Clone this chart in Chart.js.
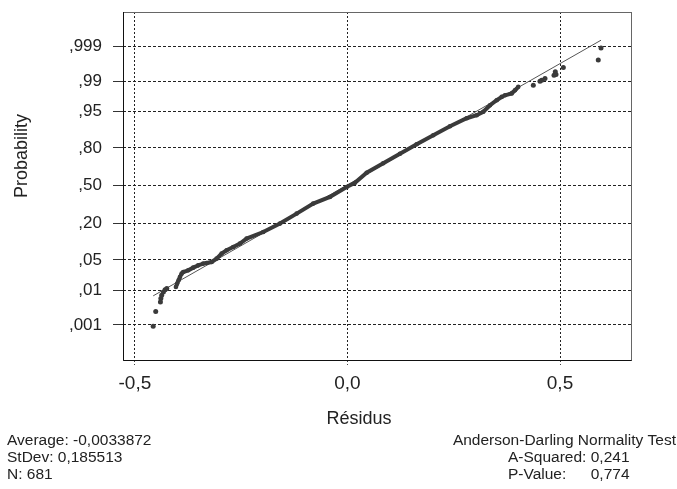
<!DOCTYPE html>
<html lang="en">
<head>
  <meta charset="UTF-8" />
  <title>Normal Probability Plot | Résidus</title>
  <script src="https://cdn.jsdelivr.net/npm/chart.js"></script>
  <style>
    html, body { margin: 0; padding: 0; background: #fff; }
    #wrap { width: 677px; height: 489px; }
  </style>
</head>
<body>
  <div id="wrap">
    <canvas id="probChart" width="677" height="489"></canvas>
  </div>

  <script>
    // residuals, with their plotted probabilities
    const lowR = [-0.457, -0.451, -0.440, -0.439, -0.437, -0.433, -0.429, -0.425];
    const lowP = [0.0009, 0.0026, 0.0049, 0.0061, 0.0075, 0.0091, 0.0105, 0.0112];

    const bodyR = [-0.4035, -0.4005, -0.3972, -0.3941, -0.3901, -0.3864, -0.3746, -0.3628, -0.3511, -0.3393,
                   -0.3313, -0.3195, -0.3078, -0.2960, -0.2842, -0.2687, -0.2529, -0.2372, -0.1981, -0.1588,
                   -0.1195, -0.0805, -0.0412, -0.0019, 0.0176, 0.0452, 0.0842, 0.1235, 0.1628, 0.2019,
                   0.2412, 0.2805, 0.3040, 0.3195, 0.3353, 0.3511, 0.3628, 0.3706, 0.3864, 0.3941, 0.4019];
    const bodyP = [0.0123, 0.0149, 0.0179, 0.0213, 0.0255, 0.0277, 0.0302, 0.0345, 0.0386, 0.0419,
                   0.0431, 0.0452, 0.0528, 0.0659, 0.0759, 0.0869, 0.0996, 0.1204, 0.1522, 0.2005,
                   0.2683, 0.3460, 0.4017, 0.4892, 0.5266, 0.6137, 0.6915, 0.7615, 0.8217, 0.8691,
                   0.9069, 0.9332, 0.9414, 0.9499, 0.9632, 0.9713, 0.9758, 0.9778, 0.9798, 0.9831, 0.9860];

    const highR = [0.4372, 0.4529, 0.4569, 0.4647, 0.4859, 0.4889, 0.4906, 0.5078, 0.5900, 0.5965];
    const highP = [0.9872, 0.9899, 0.9905, 0.9914, 0.9930, 0.9943, 0.9933, 0.9957, 0.9974, 0.9989];

    const probTicks = [0.001, 0.01, 0.05, 0.2, 0.5, 0.8, 0.95, 0.99, 0.999];
    const probLabels = [',001', ',01', ',05', ',20', ',50', ',80', ',95', ',99', ',999'];
    const resTicks = [-0.5, 0, 0.5];
    const resLabels = ['-0,5', '0,0', '0,5'];

    const average = -0.0033872;
    const stdev = 0.185513;
    const nObs = 681;
    const aSquared = 0.241;
    const pValue = 0.774;

    // inverse normal cdf, so the probability axis is drawn on a normal scale
    function probit(p) {
      const a = [-3.969683028665376e+01, 2.209460984245205e+02, -2.759285104469687e+02, 1.383577518672690e+02, -3.066479806614716e+01, 2.506628277459239e+00];
      const b = [-5.447609879822406e+01, 1.615858368580409e+02, -1.556989798598866e+02, 6.680131188771972e+01, -1.328068155288572e+01];
      const c = [-7.784894002430293e-03, -3.223964580411365e-01, -2.400758277161838e+00, -2.549732539343734e+00, 4.374664141464968e+00, 2.938163982698783e+00];
      const d = [7.784695709041462e-03, 3.224671290700398e-01, 2.445134137142996e+00, 3.754408661907416e+00];
      const pl = 0.02425;
      let q, r;
      if (p < pl) {
        q = Math.sqrt(-2 * Math.log(p));
        return (((((c[0]*q + c[1])*q + c[2])*q + c[3])*q + c[4])*q + c[5]) / ((((d[0]*q + d[1])*q + d[2])*q + d[3])*q + 1);
      }
      if (p > 1 - pl) {
        q = Math.sqrt(-2 * Math.log(1 - p));
        return -(((((c[0]*q + c[1])*q + c[2])*q + c[3])*q + c[4])*q + c[5]) / ((((d[0]*q + d[1])*q + d[2])*q + d[3])*q + 1);
      }
      q = p - 0.5;
      r = q * q;
      return (((((a[0]*r + a[1])*r + a[2])*r + a[3])*r + a[4])*r + a[5])*q / (((((b[0]*r + b[1])*r + b[2])*r + b[3])*r + b[4])*r + 1);
    }

    const toPoints = (rs, ps) => rs.map((r, i) => ({ x: r, y: probit(ps[i]) }));
    const comma = v => String(v).replace('.', ',');

    const rMin = Math.min(...lowR);
    const rMax = Math.max(...highR);
    const fitLine = [rMin, rMax].map(r => ({ x: r, y: (r - average) / stdev }));

    const FONT = "'Liberation Sans', Arial, sans-serif";
    const INK = '#3a3a3a';

    // frame and the texts around the plot
    const decor = {
      id: 'decor',
      afterDraw(chart) {
        const { ctx, chartArea: ca } = chart;
        ctx.save();
        ctx.lineWidth = 1;
        ctx.strokeStyle = '#666';
        ctx.strokeRect(ca.left + 0.5, ca.top + 0.5, ca.right - ca.left, ca.bottom - ca.top);
        ctx.strokeStyle = '#111';
        ctx.beginPath();
        ctx.moveTo(ca.left + 0.5, ca.top);
        ctx.lineTo(ca.left + 0.5, ca.bottom + 0.5);
        ctx.lineTo(ca.right + 0.5, ca.bottom + 0.5);
        ctx.stroke();

        ctx.fillStyle = '#222';
        ctx.textBaseline = 'middle';

        ctx.save();
        ctx.translate(22, 156);
        ctx.rotate(-Math.PI / 2);
        ctx.textAlign = 'center';
        ctx.font = '18px ' + FONT;
        ctx.fillText('Probability', 0, 0);
        ctx.restore();

        ctx.textAlign = 'center';
        ctx.font = '18px ' + FONT;
        ctx.fillText('Résidus', 359, 419);

        ctx.font = '15.5px ' + FONT;
        ctx.textAlign = 'left';
        ctx.fillText('Average: ' + comma(average), 7, 441);
        ctx.fillText('StDev: ' + comma(stdev), 7, 458);
        ctx.fillText('N: ' + nObs, 7, 475);

        ctx.textAlign = 'right';
        ctx.fillText('Anderson-Darling Normality Test', 676, 441);
        const aText = 'A-Squared: ' + comma(aSquared);
        const x0 = 508;
        const x1 = x0 + ctx.measureText(aText).width;
        ctx.textAlign = 'left';
        ctx.fillText(aText, x0, 458);
        ctx.fillText('P-Value:', x0, 475);
        ctx.textAlign = 'right';
        ctx.fillText(comma(pValue), x1, 475);
        ctx.restore();
      }
    };

    new Chart(document.getElementById('probChart'), {
      type: 'scatter',
      data: {
        datasets: [
          {
            label: 'fit',
            data: fitLine,
            showLine: true,
            borderColor: '#555',
            borderWidth: 1,
            pointRadius: 0,
            order: 3
          },
          {
            label: 'body',
            data: toPoints(bodyR, bodyP),
            showLine: true,
            borderColor: INK,
            borderWidth: 4,
            backgroundColor: INK,
            pointRadius: 2.3,
            pointBorderWidth: 0,
            order: 2
          },
          {
            label: 'tails',
            data: toPoints(lowR, lowP).concat(toPoints(highR, highP)),
            showLine: false,
            backgroundColor: INK,
            pointRadius: 2.5,
            pointBorderWidth: 0,
            order: 1
          }
        ]
      },
      options: {
        responsive: false,
        animation: false,
        layout: { padding: { top: 12, right: 46, left: 0, bottom: 0 } },
        plugins: {
          legend: { display: false },
          tooltip: { enabled: false }
        },
        scales: {
          x: {
            type: 'linear',
            min: -0.528,
            max: 0.667,
            afterBuildTicks: s => { s.ticks = resTicks.map(v => ({ value: v })); },
            afterFit: s => { s.height = 129; s.paddingLeft = 0; s.paddingRight = 0; },
            ticks: {
              autoSkip: false,
              maxRotation: 0,
              padding: 7,
              color: '#222',
              font: { family: FONT, size: 19 },
              callback: (v, i) => resLabels[i]
            },
            grid: {
              color: '#222',
              lineWidth: 1,
              tickLength: 5,
              tickColor: '#444',
              tickBorderDash: [2, 2]
            },
            border: { display: false, dash: [2, 2] }
          },
          y: {
            type: 'linear',
            min: -3.87,
            max: 3.86,
            afterBuildTicks: s => { s.ticks = probTicks.map(p => ({ value: probit(p) })); },
            afterFit: s => { s.width = 123; s.paddingTop = 0; s.paddingBottom = 0; },
            ticks: {
              autoSkip: false,
              padding: 11,
              color: '#222',
              font: { family: FONT, size: 17 },
              callback: (v, i) => probLabels[i]
            },
            grid: {
              color: '#222',
              lineWidth: 1,
              tickLength: 10,
              tickColor: '#333',
              tickBorderDash: []
            },
            border: { display: false, dash: [3, 2] }
          }
        }
      },
      plugins: [decor]
    });
  </script>
</body>
</html>
